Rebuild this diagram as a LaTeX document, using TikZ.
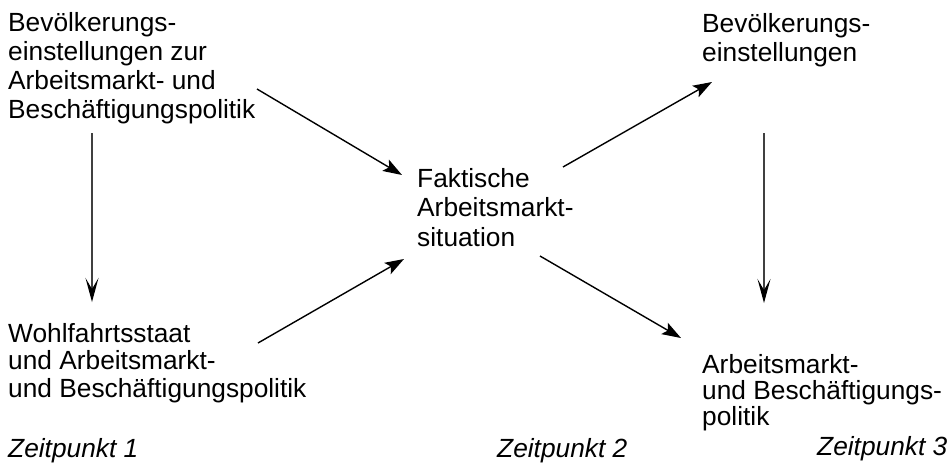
\documentclass[tikz,border=0pt]{standalone}
\usepackage{fontspec}
\setmainfont{Liberation Sans}
\usetikzlibrary{arrows.meta}
\begin{document}
\begin{tikzpicture}[x=1pt,y=-1pt,
  txt/.style={anchor=base west,inner sep=0pt,align=left,font=\fontsize{26.3}{28.7}\selectfont},
  lbl/.style={anchor=base west,inner sep=0pt,font=\fontsize{26.3}{28.7}\selectfont\itshape},
  diag/.style={line width=1.4pt,-{Stealth[length=19pt,width=13pt,inset=4pt]}},
  vert/.style={line width=1.2pt,draw=black!75,-{Stealth[length=24pt,width=13pt,inset=11pt,color=black]}}]
\useasboundingbox (0,0) rectangle (951,467);
\node[txt] (tl) at (8,118) {Bevölkerungs-\\einstellungen zur\\Arbeitsmarkt- und\\Beschäftigungspolitik};
\node[txt,font=\fontsize{26.3}{27.5}\selectfont] (bl) at (8,397) {Wohlfahrtsstaat\\und Arbeitsmarkt-\\und Beschäftigungspolitik};
\node[txt,font=\fontsize{26.3}{29.5}\selectfont] (c) at (417,246) {Faktische\\Arbeitsmarkt-\\situation};
\node[txt,font=\fontsize{26.3}{29}\selectfont] (tr) at (702,61) {Bevölkerungs-\\einstellungen};
\node[txt,font=\fontsize{26.3}{26}\selectfont] (br) at (702,425) {Arbeitsmarkt-\\und Beschäftigungs-\\politik};
\node[lbl] (z1) at (8,457) {Zeitpunkt 1};
\node[lbl] (z2) at (497,457) {Zeitpunkt 2};
\node[lbl] (z3) at (817,455) {Zeitpunkt 3};
\coordinate (a1s) at (257,89);  \coordinate (a1e) at (402,175);
\coordinate (a2s) at (258,343); \coordinate (a2e) at (404,259);
\coordinate (a3s) at (563,167); \coordinate (a3e) at (712,82);
\coordinate (a4s) at (540,256); \coordinate (a4e) at (681,338);
\coordinate (v1s) at (92,133);  \coordinate (v1e) at (92,302);
\coordinate (v2s) at (764,133); \coordinate (v2e) at (764,303);
\draw[diag] (a1s) -- (a1e);
\draw[diag] (a2s) -- (a2e);
\draw[diag] (a3s) -- (a3e);
\draw[diag] (a4s) -- (a4e);
\draw[vert] (v1s) -- (v1e);
\draw[vert] (v2s) -- (v2e);
\end{tikzpicture}
\end{document}
